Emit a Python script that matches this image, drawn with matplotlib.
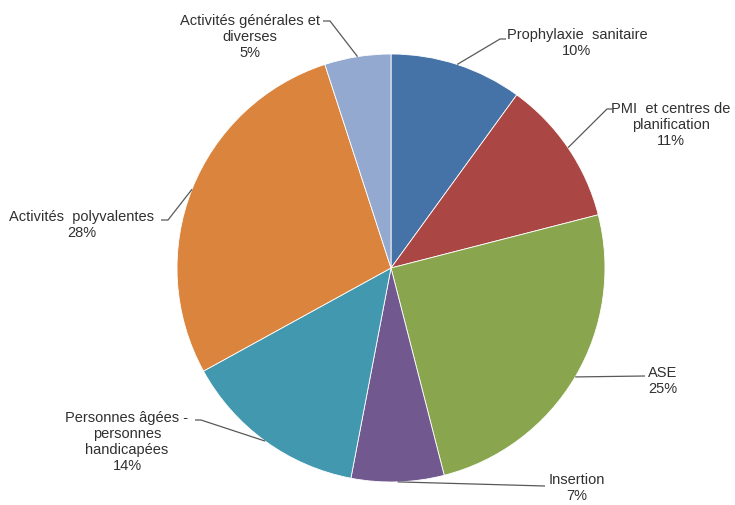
import numpy as np
import matplotlib
matplotlib.use("Agg")
import matplotlib.pyplot as plt

plt.rcParams['font.family'] = ['Liberation Sans', 'DejaVu Sans']

categories = ["Prophylaxie  sanitaire", "PMI  et centres de\nplanification", "ASE", "Insertion",
              "Personnes âgées -\npersonnes\nhandicapées", "Activités  polyvalentes",
              "Activités générales et\ndiverses"]
values = [10, 11, 25, 7, 14, 28, 5]
colors = ["#4572A7", "#AA4643", "#89A54E", "#71588F", "#4198AF", "#DB843D", "#93A9CF"]

W, H = 735, 506
cx, cy, r = 391, 269, 214

fig = plt.figure(figsize=(7.35, 5.06), dpi=100)
ax = fig.add_axes([0, 0, 1, 1])

wedges, _ = ax.pie(values, colors=colors, startangle=90, counterclock=False,
                   center=(cx, H - cy), radius=r,
                   wedgeprops=dict(edgecolor='white', linewidth=0.6))
ax.set_xlim(0, W)
ax.set_ylim(0, H)
ax.set_aspect('equal')
ax.axis('off')

# label layout: text anchor (px), alignment, elbow point, end of horizontal tick
layout = [
    ((577, 43), 'center', (500, 40), (506, 40)),
    ((671, 125), 'center', (607, 110), (612, 110)),
    ((648, 381), 'left', (645, 377), (645, 377)),
    ((549, 488), 'left', (545, 487), (545, 487)),
    ((127, 442), 'center', (201, 421), (195, 421)),
    ((82, 225), 'center', (168, 221), (161, 221)),
    ((250, 37), 'center', (330, 22), (323, 22)),
]

for w, v, name, (pos, ha, elbow, tick) in zip(wedges, values, categories, layout):
    ang = np.deg2rad((w.theta1 + w.theta2) / 2)
    ex = cx + r * np.cos(ang)
    ey = (H - cy) + r * np.sin(ang)
    ax.plot([ex, elbow[0], tick[0]], [ey, H - elbow[1], H - tick[1]],
            color='#595959', lw=0.9, solid_capstyle='butt')
    ax.text(pos[0], H - pos[1], f"{name}\n{v}%", ha=ha, va='center',
            multialignment='center', fontsize=10.5, color='#303030', linespacing=1.18)

fig.savefig("out.png", dpi=100)
